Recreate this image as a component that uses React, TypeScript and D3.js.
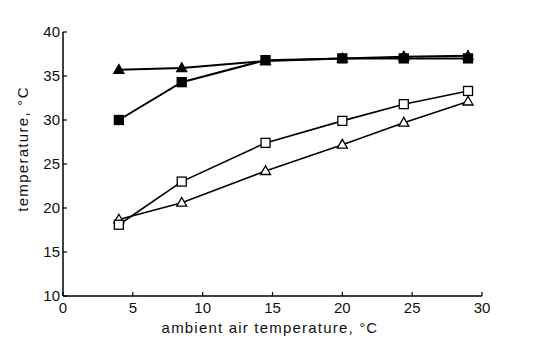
import React from "react";
import * as d3 from "d3";

const xValues = [4, 8.5, 14.5, 20, 24.4, 29];
const filledTriangle = [35.7, 35.9, 36.7, 37.0, 37.2, 37.3];
const filledSquare = [30.0, 34.3, 36.8, 37.0, 37.0, 37.0];
const openSquare = [18.1, 23.0, 27.4, 29.9, 31.8, 33.3];
const openTriangle = [18.7, 20.6, 24.2, 27.2, 29.7, 32.1];
const xTicks = [0, 5, 10, 15, 20, 25, 30];
const yTicks = [10, 15, 20, 25, 30, 35, 40];

const W = 536, H = 355;
const left = 63, right = 482, top = 32, bottom = 296;

export default function App() {
  const x = d3.scaleLinear().domain([0, 30]).range([left, right]);
  const y = d3.scaleLinear().domain([10, 40]).range([bottom, top]);
  const line = d3.line<number>().x((_, i) => x(xValues[i])).y((v) => y(v));
  const font = "'Liberation Sans', Arial, sans-serif";
  const sq = 9;
  const tri = (cx: number, cy: number) => {
    const s = 10;
    const h = s * 0.87;
    return `M${cx},${cy - h * 0.6}L${cx + s / 2},${cy + h * 0.4}L${cx - s / 2},${cy + h * 0.4}Z`;
  };
  const series = [
    { data: openTriangle, shape: "tri", fill: "#fff" },
    { data: openSquare, shape: "sq", fill: "#fff" },
    { data: filledSquare, shape: "sq", fill: "#000" },
    { data: filledTriangle, shape: "tri", fill: "#000" },
  ];
  return (
    <svg width={W} height={H} style={{ position: "absolute", left: 0, top: 0, background: "#fff" }}>
      <rect width={W} height={H} fill="#fff" />
      <line x1={left} x2={left} y1={top} y2={bottom} stroke="#000" strokeWidth={1.5} />
      <line x1={left} x2={right} y1={bottom} y2={bottom} stroke="#000" strokeWidth={1.5} />
      {yTicks.map((t) => (
        <g key={"y" + t}>
          <line x1={left} x2={left + 4} y1={y(t)} y2={y(t)} stroke="#000" strokeWidth={1.2} />
          <text x={left - 3} y={y(t) + 5} textAnchor="end" fontSize={15} fontFamily={font} fill="#111">
            {t}
          </text>
        </g>
      ))}
      {xTicks.map((t) => (
        <g key={"x" + t}>
          <line x1={x(t)} x2={x(t)} y1={bottom} y2={bottom - 4} stroke="#000" strokeWidth={1.2} />
          <text x={x(t)} y={bottom + 17} textAnchor="middle" fontSize={15} fontFamily={font} fill="#111">
            {t}
          </text>
        </g>
      ))}
      <text x={270} y={333} textAnchor="middle" fontSize={15} fontFamily={font} letterSpacing={1.2} fill="#111">
        ambient air temperature, °C
      </text>
      <text
        transform={`translate(28,${149}) rotate(-90)`}
        textAnchor="middle"
        fontSize={15}
        fontFamily={font}
        letterSpacing={1.3}
        fill="#111"
      >
        temperature, °C
      </text>
      {series.map((s, si) => (
        <path key={"l" + si} d={line(s.data) || ""} fill="none" stroke="#000" strokeWidth={s.fill === "#000" ? 2 : 1.6} />
      ))}
      {series.map((s, si) =>
        s.data.map((v, i) =>
          s.shape === "sq" ? (
            <rect
              key={`m${si}-${i}`}
              x={x(xValues[i]) - sq / 2}
              y={y(v) - sq / 2}
              width={sq}
              height={sq}
              fill={s.fill}
              stroke="#000"
              strokeWidth={1.3}
            />
          ) : (
            <path key={`m${si}-${i}`} d={tri(x(xValues[i]), y(v))} fill={s.fill} stroke="#000" strokeWidth={1.3} />
          )
        )
      )}
    </svg>
  );
}
